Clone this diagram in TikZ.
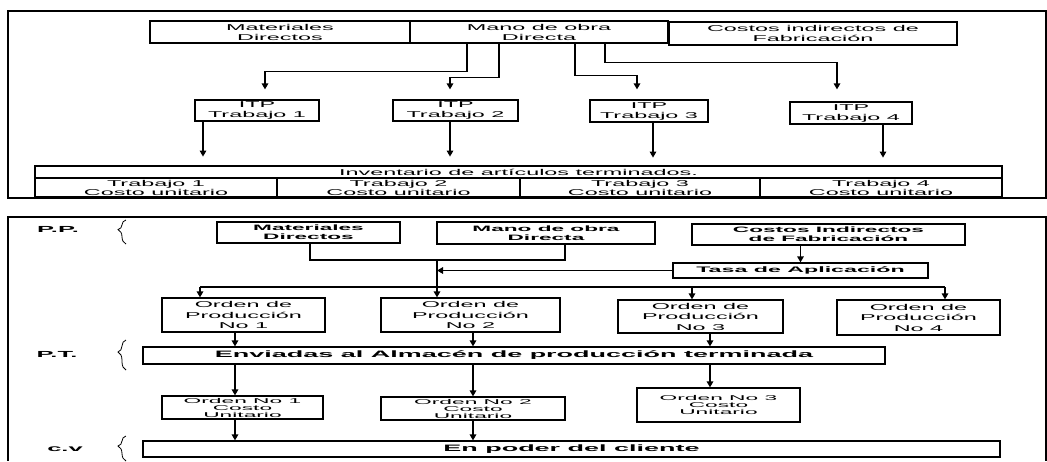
\documentclass[tikz,border=0pt]{standalone}
\usepackage{fontspec}
\setmainfont{Liberation Sans}
\newfontfamily\rgf[FakeStretch=2.75]{Liberation Sans}
\newfontfamily\smf[FakeStretch=3.25]{Liberation Sans}
\newfontfamily\bbf[FakeStretch=2.9]{Liberation Sans}
\usetikzlibrary{arrows.meta,decorations.pathreplacing,calc}
\begin{document}
\begin{tikzpicture}[x=1pt,y=-1pt,
  box/.style={draw,line width=1.2pt,inner sep=0pt,align=center},
  tr/.style={box,font={\rgf\fontsize{8.5}{10}\selectfont}},
  tc/.style={box,font={\rgf\fontsize{8.5}{9}\selectfont}},
  bb/.style={box,font={\bbf\bfseries\fontsize{7.8}{9}\selectfont}},
  bbig/.style={box,font={\bbf\bfseries\fontsize{9.3}{10}\selectfont}},
  ord/.style={box,font={\rgf\fontsize{8.5}{10.5}\selectfont}},
  sml/.style={box,font={\smf\fontsize{7}{7}\selectfont}},
  lab/.style={inner sep=0pt,font={\bbf\bfseries\fontsize{8.8}{10}\selectfont}},
  ln/.style={line width=1.4pt},
  arr/.style={line width=1.4pt,-{Triangle[length=6pt,width=6.5pt]}},
  frame/.style={line width=1.1pt},
  brc/.style={line width=0.8pt,decorate,decoration={brace,amplitude=8pt,aspect=0.6}}
]
\useasboundingbox[fill=white] (0,0) rectangle (1047,461);

% ---------- top panel ----------
\draw[frame] (8,11) rectangle (1046,198);
\node[tr,minimum width=260,minimum height=22] (mat1) at (280,32) {Materiales\\Directos};
\node[tr,minimum width=258,minimum height=22] (mano1) at (539,32) {Mano de obra\\Directa};
\node[tr,minimum width=288,minimum height=23] (cif1) at (813,33.5) {Costos indirectos de\\Fabricación};

\node[tr,minimum width=124,minimum height=21] (i1) at (257,110.5) {ITP\\Trabajo 1};
\node[tr,minimum width=125,minimum height=21] (i2) at (455.5,110.5) {ITP\\Trabajo 2};
\node[tr,minimum width=118,minimum height=22] (i3) at (649,111) {ITP\\Trabajo 3};
\node[tr,minimum width=122,minimum height=22] (i4) at (851,113) {ITP\\Trabajo 4};

\node[tr,minimum width=967,minimum height=12] (inv) at (518.5,172) {Inventario de artículos terminados.};
\node[tc,minimum width=242,minimum height=19] (c1) at (156,187.5) {Trabajo 1\\Costo unitario};
\node[tc,minimum width=243,minimum height=19] (c2) at (398.5,187.5) {Trabajo 2\\Costo unitario};
\node[tc,minimum width=240,minimum height=19] (c3) at (640,187.5) {Trabajo 3\\Costo unitario};
\node[tc,minimum width=242,minimum height=19] (c4) at (881,187.5) {Trabajo 4\\Costo unitario};

\draw[arr] ($(mano1.south)+(-72,0)$) -- ++(0,28) -| ($(i1.north)+(8,-10)$);
\draw[arr] ($(mano1.south)+(-40,0)$) -- ++(0,34) -| ($(i2.north)+(-5.5,-10)$);
\draw[arr] ($(mano1.south)+(36,0)$) -- ++(0,32) -| ($(i3.north)+(-12,-10)$);
\draw[arr] ($(mano1.south)+(66,0)$) -- ++(0,19) -| ($(i4.north)+(-14,-12)$);

\draw[arr] ($(i1.south)+(-54,0)$) -- ++(0,35);
\draw[arr] ($(i2.south)+(-5.5,0)$) -- ++(0,35);
\draw[arr] ($(i3.south)+(4,0)$) -- ++(0,35);
\draw[arr] ($(i4.south)+(32,0)$) -- ++(0,33);

% ---------- bottom panel ----------
\draw[frame] (8,460.5) -- (8,217) -- (1046,217) -- (1046,460.5);

\node[lab] (pp) at (58,229) {P.P.};
\node[lab] (pt) at (57,354) {P.T.};
\node[lab] (cv) at (65,449) {c.v};
\draw[brc] (126,244) -- (126,220);
\draw[brc] (126,370) -- (126,340);
\draw[brc] (126,461) -- (126,436);

\node[bb,minimum width=183,minimum height=21] (mat2) at (308.5,232.5) {Materiales\\Directos};
\node[bb,minimum width=218,minimum height=22] (mano2) at (546,233) {Mano de obra\\Directa};
\node[bb,minimum width=273,minimum height=21] (cif2) at (828.5,234.5) {Costos Indirectos\\de Fabricación};
\node[bb,font={\bbf\bfseries\fontsize{8}{9}\selectfont},minimum width=255,minimum height=15] (tasa) at (800.5,270.5) {Tasa de Aplicación};

\node[ord,minimum width=163,minimum height=34] (o1) at (243.5,315) {Orden de\\Producción\\No 1};
\node[ord,minimum width=179,minimum height=34] (o2) at (470.5,315) {Orden de\\Producción\\No 2};
\node[ord,minimum width=165,minimum height=33] (o3) at (700.5,316.5) {Orden de\\Producción\\No 3};
\node[ord,minimum width=163,minimum height=35] (o4) at (918.5,317.5) {Orden de\\Producción\\No 4};

\node[bbig,minimum width=742,minimum height=17] (env) at (514,355.5) {Enviadas al Almacén de producción terminada};

\node[sml,minimum width=161,minimum height=23] (on1) at (242.5,407.5) {Orden No 1\\Costo\\Unitario};
\node[sml,minimum width=184,minimum height=23] (on2) at (473,408.5) {Orden No 2\\Costo\\Unitario};
\node[sml,minimum width=163,minimum height=34] (on3) at (718.5,405) {Orden No 3\\Costo\\Unitario};

\node[bbig,minimum width=857,minimum height=16] (cli) at (571.5,449) {En poder del cliente};

\coordinate (j) at (437,260);
\coordinate (dl) at (200,287);
\coordinate (dr) at (945,287);
\coordinate (d3) at (692,287);
\coordinate (xa) at (235,0);
\coordinate (xb) at (473,0);
\coordinate (xc) at (710,0);

\draw[ln] ($(mat2.south)+(1.5,0)$) |- (j);
\draw[ln] ($(mano2.south)+(19,0)$) |- (j);
\draw[arr] (tasa.north |- cif2.south) -- (tasa.north);
\draw[arr] (tasa.west) -- (tasa.west -| j);
\draw[arr] (j) -- (j |- o2.north);
\draw[ln] (dl) -- (dr);
\draw[arr] (dl) -- (dl |- o1.north);
\draw[arr] (d3) -- (d3 |- o3.north);
\draw[arr] (dr) -- (dr |- o4.north);

\draw[arr] (o1.south -| xa) -- (env.north -| xa);
\draw[arr] (o2.south -| xb) -- (env.north -| xb);
\draw[arr] (o3.south -| xc) -- (env.north -| xc);
\draw[arr] (env.south -| xa) -- (on1.north -| xa);
\draw[arr] (env.south -| xb) -- (on2.north -| xb);
\draw[arr] (env.south -| xc) -- (on3.north -| xc);
\draw[arr] (on1.south -| xa) -- (cli.north -| xa);
\draw[arr] (on2.south -| xb) -- (cli.north -| xb);
\end{tikzpicture}
\end{document}
